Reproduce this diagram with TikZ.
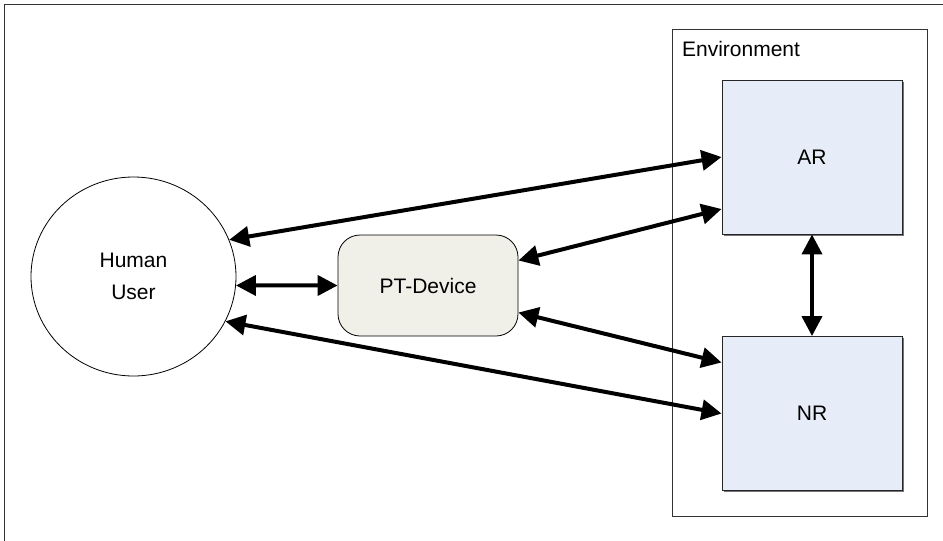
\documentclass[tikz,border=0pt]{standalone}
\usepackage{fontspec}
\setmainfont{Liberation Sans}
\usetikzlibrary{arrows.meta,shapes.geometric,shadows}

\definecolor{roomfill}{RGB}{231,237,248}
\definecolor{devfill}{RGB}{240,240,232}

\tikzset{
	link/.style={line width=4pt, {Triangle[length=20pt,width=20pt]}-{Triangle[length=20pt,width=20pt]}},
	room/.style={rectangle, draw=black!85, line width=0.9pt, fill=roomfill, minimum width=180pt, minimum height=154pt,
		drop shadow={shadow xshift=1.5pt, shadow yshift=-1.5pt, fill=black!55, opacity=1}},
}

\begin{document}
\begin{tikzpicture}[x=1pt, y=-1pt, font=\fontsize{21}{32}\selectfont]
	
	\useasboundingbox (0,0) rectangle (943,541);
	\draw [black!80, line width=0.9pt] (4,541) -- (4,4) -- (943,4);
	
	% environment frame
	\draw (799.5,272.5) node (env) [rectangle, draw=black!80, line width=0.9pt, minimum width=255pt, minimum height=487pt] {};
	\draw ([xshift=7pt, yshift=-28pt]env.north west) node (envlabel) [anchor=base west] {Environment};
	
	\draw (133.5,276.5) node (user) [ellipse, draw, line width=0.8pt, minimum width=205pt, minimum height=199pt, align=center] {Human\\User};
	
	\draw (428,285.5) node (pt) [rectangle, rounded corners=22pt, draw, line width=0.8pt, fill=devfill, minimum width=180pt, minimum height=101pt] {PT-Device};
	
	\foreach \i/\n/\y in {ar/AR/157, nr/NR/413.5} {
		\draw (812,\y) node (\i) [room] {\n};
	}
	
	\draw [link] (user.21) -- (ar.west);
	\draw [link] (user.-5) -- (pt.west);
	\draw [link] (user.-26) -- (nr.west);
	\draw [link] ([yshift=25pt]pt.east) -- ([yshift=-52pt]ar.west);
	\draw [link] ([yshift=-27pt]pt.east) -- ([yshift=51pt]nr.west);
	\draw [link] (ar.south) -- (nr.north);
	
\end{tikzpicture}
\end{document}
